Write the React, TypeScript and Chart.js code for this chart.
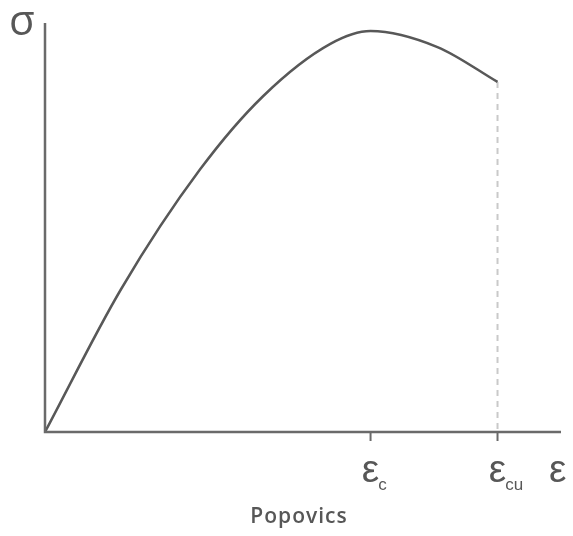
import React, { useEffect, useRef } from "react";
import { Chart, registerables } from "chart.js";

Chart.register(...registerables);

// strain (εc = 2.0) and normalised stress σ/fc
const strain = [0, 0.467, 0.953, 1.341, 1.753, 2.0, 2.411, 2.78];
const stress = [0, 0.356, 0.655, 0.838, 0.968, 1.0, 0.96, 0.873];
const epsC = 2.0;
const epsCU = 2.78;
const xMax = 3.17;
const yMax = 1.02;
const tickLabels = [
  { value: epsC, main: "ε", sub: "c" },
  { value: epsCU, main: "ε", sub: "cu" },
];
const axisXLabel = "ε";
const axisYLabel = "σ";
const title = "Popovics";

const FONT = '"Open Sans", "DejaVu Sans", sans-serif';
const EFONT = '"Liberation Sans", Arial, sans-serif';
const AXIS = "#6a6a6a";
const TEXT = "#575757";

const overlay = {
  id: "overlay",
  afterDraw(chart: any) {
    const { ctx, chartArea } = chart;
    const xs = chart.scales.x;
    const { left, right, top, bottom } = chartArea;
    ctx.save();
    ctx.strokeStyle = AXIS;
    ctx.lineWidth = 2.5;
    ctx.lineCap = "butt";
    ctx.beginPath();
    ctx.moveTo(left, top);
    ctx.lineTo(left, bottom + 1.25);
    ctx.moveTo(left - 1.25, bottom);
    ctx.lineTo(right, bottom);
    ctx.stroke();
    // ticks
    ctx.lineWidth = 2;
    for (const t of tickLabels) {
      const px = xs.getPixelForValue(t.value);
      ctx.beginPath();
      ctx.moveTo(px, bottom);
      ctx.lineTo(px, bottom + 9);
      ctx.stroke();
    }
    ctx.fillStyle = TEXT;
    ctx.textBaseline = "alphabetic";
    // tick labels with subscript
    for (const t of tickLabels) {
      const px = xs.getPixelForValue(t.value);
      ctx.font = `39px ${EFONT}`;
      ctx.textAlign = "center";
      ctx.fillText(t.main, px, 482);
      const w = ctx.measureText(t.main).width;
      ctx.font = `17px ${EFONT}`;
      ctx.textAlign = "left";
      ctx.fillText(t.sub, px + w / 2 - 1, 490);
    }
    // axis labels
    ctx.font = `39px ${EFONT}`;
    ctx.textAlign = "left";
    ctx.fillText(axisXLabel, 549, 482);
    ctx.font = `42px ${FONT}`;
    ctx.fillText(axisYLabel, 9, 35);
    // title
    ctx.font = `600 21px ${FONT}`;
    (ctx as any).letterSpacing = "1px";
    ctx.textAlign = "center";
    ctx.fillText(title, 299, 523);
    ctx.restore();
  },
};

export default function App() {
  const ref = useRef<HTMLCanvasElement | null>(null);
  useEffect(() => {
    const canvas = ref.current;
    if (!canvas) return;
    const chart = new Chart(canvas, {
      type: "line",
      data: {
        datasets: [
          {
            data: strain.map((x, i) => ({ x, y: stress[i] })),
            borderColor: "#585858",
            borderWidth: 2.5,
            pointRadius: 0,
            cubicInterpolationMode: "monotone",
            fill: false,
            clip: false as any,
          },
          {
            data: [
              { x: epsCU, y: stress[stress.length - 1] },
              { x: epsCU, y: 0 },
            ],
            borderColor: "#c9c9c9",
            borderWidth: 2,
            borderDash: [6, 5],
            pointRadius: 0,
            fill: false,
            clip: false as any,
          },
        ],
      },
      options: {
        responsive: false,
        animation: false,
        layout: { padding: { left: 45, top: 23, right: 12, bottom: 104 } },
        plugins: { legend: { display: false }, tooltip: { enabled: false }, title: { display: false } },
        scales: {
          x: { type: "linear", min: 0, max: xMax, display: false },
          y: { type: "linear", min: 0, max: yMax, display: false },
        },
      },
      plugins: [overlay],
    });
    return () => chart.destroy();
  }, []);
  return (
    <div style={{ position: "fixed", left: 0, top: 0, width: 573, height: 536, background: "#fff" }}>
      <canvas ref={ref} width={573} height={536} />
    </div>
  );
}
